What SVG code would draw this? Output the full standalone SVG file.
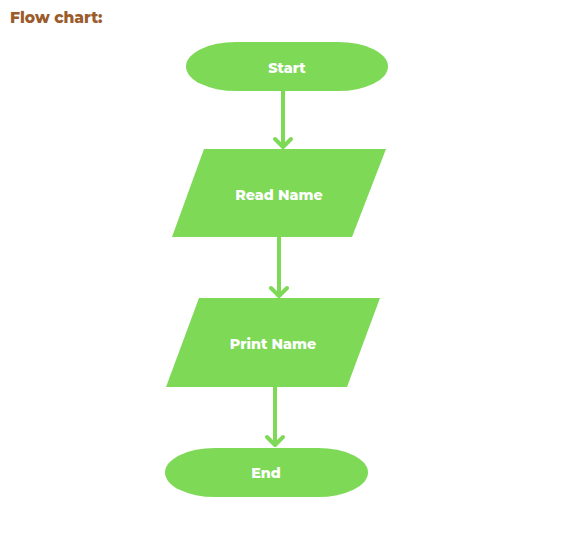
<svg xmlns="http://www.w3.org/2000/svg" width="577" height="543" viewBox="0 0 577 543">
<style>
.shape{fill:#7ed957;}
.lbl{font-family:"Montserrat","Inter","Liberation Sans",sans-serif;font-weight:800;font-size:14.3px;fill:#ffffff;text-anchor:middle;dominant-baseline:central;}
.title{font-family:"Montserrat","Inter","Liberation Sans",sans-serif;font-weight:800;font-size:15.5px;fill:#9b5b2b;}
.conn{stroke:#7ed957;stroke-width:4;fill:none;stroke-linecap:round;stroke-linejoin:round;}
</style>
<rect width="577" height="543" fill="#ffffff"/>
<text class="title" x="10" y="23">Flow chart:</text>
<g id="connectors">
<path class="conn" d="M283 91 V147 M275 139 L283 147 L291 139"/>
<path class="conn" d="M279 237 V296 M271 288 L279 296 L287 288"/>
<path class="conn" d="M275 387 V445 M267 437 L275 445 L283 437"/>
</g>
<g id="start">
<rect class="shape" x="186" y="42" width="202" height="49" rx="50" ry="24.5"/>
<text class="lbl" x="287" y="68">Start</text>
</g>
<g id="read">
<polygon class="shape" points="204,149 386,149 352,237 172,237"/>
<text class="lbl" x="279" y="195">Read Name</text>
</g>
<g id="print">
<polygon class="shape" points="199,298 380,298 347,387 166,387"/>
<text class="lbl" x="273" y="344">Print Name</text>
</g>
<g id="end">
<rect class="shape" x="165" y="448" width="203" height="49" rx="50" ry="24.5"/>
<text class="lbl" x="266" y="473">End</text>
</g>
</svg>
